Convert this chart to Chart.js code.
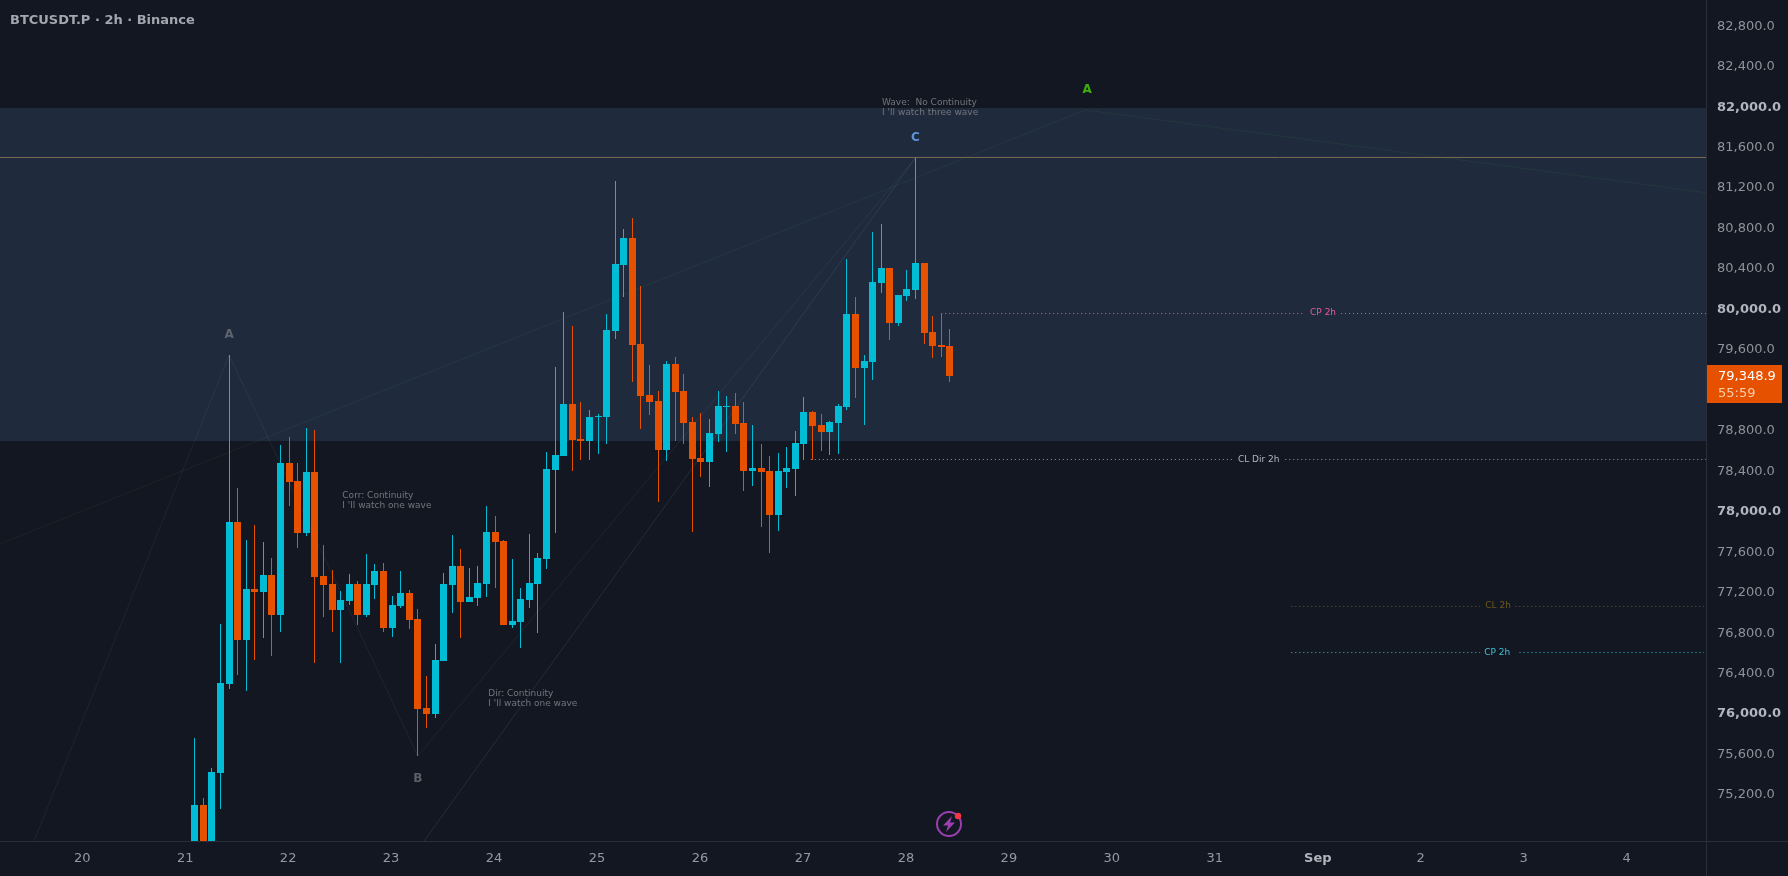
<!DOCTYPE html>
<html><head><meta charset="utf-8">
<style>html,body{margin:0;padding:0;background:#131722;overflow:hidden}canvas{display:block}</style>
<script src="https://cdn.jsdelivr.net/npm/chart.js@4/dist/chart.umd.min.js"></script>
</head><body><canvas id="c" width="1788" height="876"></canvas>
<script>
// slot index = 2h bar number (slot 0 is the first visible candle)
const opens  = [74666,75111,74660,75427,76307,77909,76743,77247,77217,77385,76990,78492,78314,77800,78403,77375,77296,77039,77128,77296,76990,77286,77425,76861,77079,77207,76950,76070,76011,76535,77286,77474,77118,77158,77296,77810,77721,76891,76920,77138,77296,77543,78423,78562,79076,78730,78710,78947,78947,79797,80450,80717,79669,79165,79105,78621,79471,79204,78898,78542,78502,78779,79046,79056,78888,78413,78443,78413,77978,78403,78433,78680,78997,78868,78799,78888,79046,79965,79432,79491,80272,80420,79876,80143,80203,80470,79787,79659,79649];
const highs  = [75774,75180,75477,76901,79560,78245,77731,77879,77711,77553,78670,78749,78492,78838,78819,77682,77435,77227,77395,77326,77593,77494,77504,77177,77425,77237,77049,76387,76703,77405,77781,77642,77454,77474,78067,77968,77731,77543,77257,77790,77603,78601,79441,79985,79847,79095,79016,78977,79965,81280,80806,80914,80242,79461,79204,79501,79540,79372,78947,78987,78927,79204,79155,79184,79095,78868,78680,78562,78591,78650,78809,79145,79006,78977,78908,79076,80509,80134,79560,80776,80855,80420,80153,80400,81508,80470,79946,79975,79817];
const lows   = [74617,74600,74600,75072,76258,76396,76238,76545,76762,76584,76822,78067,77652,77771,76515,76970,76822,76515,77088,76891,76970,77148,76822,76772,77059,76851,75596,75872,75971,76535,77009,76762,77118,77079,77168,77257,76891,76861,76664,77059,76812,77444,77800,78562,78413,78522,78522,78581,78680,79718,80134,79293,78829,78967,78107,78512,78710,78680,77810,78354,78255,78700,78601,78779,78216,78265,77860,77603,77820,78245,78166,78522,78522,78611,78571,78581,79016,79135,78868,79313,80173,79708,79847,80094,80114,79669,79530,79540,79293];
const closes = [75111,74660,75437,76317,77909,76743,77247,77217,77385,76990,78492,78304,77800,78403,77365,77286,77039,77138,77296,76990,77296,77425,76861,77088,77207,76940,76060,76011,76545,77296,77474,77118,77168,77306,77810,77711,76891,76930,77148,77306,77553,78433,78571,79076,78720,78710,78947,78957,79807,80460,80717,79659,79155,79095,78621,79471,79194,78888,78532,78502,78789,79056,79056,78878,78413,78443,78403,77978,78413,78443,78690,78997,78858,78799,78898,79056,79965,79432,79501,80282,80420,79876,80153,80213,80470,79778,79649,79639,79349];

const dayTickSlots = [-13,-1,11,23,35,47,59,71,83,95,107,119,131,143,155,167];
const dayLabels = ['20','21','22','23','24','25','26','27','28','29','30','31','Sep','2','3','4'];
const priceTicks = [75200,75600,76000,76400,76800,77200,77600,78000,78400,78800,79600,80000,80400,80800,81200,81600,82000,82400,82800];
const boldPrices = [76000,78000,80000,82000];
const lastPriceLabel = '79,348.9';
const lastPrice = 79348.9;
const countdown = '55:59';

const slotMin = -22.698, slotMax = 176.13;
const priceMin = 74755.3, priceMax = 83069.7;

const zoneTop = 82002, zoneBottom = 78710;
const resistance = 81513;

const zigzagSlots = [-18.73, 4, 26, 84];
const zigzagPrices = [74755, 79560, 75596, 81508];
const diagSlots = [26.73, 84];
const diagPrices = [74755, 81508];
const greenSlots = [-22.7, 103.76, 176.13];
const greenPrices = [77692, 81982, 81165];

const clDirSlots = [71.8, 121.1, 121.1, 127.1, 176.13];
const clDirPrice = 78527;
const cpTopSlots = [87, 129.4, 129.4, 133.6, 176.13];
const cpTopPrice = 79970;
const clSlots = [127.8, 149.8, 149.8, 153.9, 175.9];
const clPrice = 77074;
const cpSlots = [127.8, 149.8, 149.8, 154.4, 175.9];
const cpPrice = 76619;

const noteTexts = ['Corr: Continuity',"I 'll watch one wave",'Dir: Continuity',"I 'll watch one wave",'Wave:  No Continuity',"I 'll watch three wave"];
const noteSlots = [17.2,17.2,34.2,34.2,80.1,80.1];
const notePrices = [78170,78070,76210,76110,82055,81955];

const levelTexts = ['CL Dir 2h','CP 2h','CL 2h','CP 2h'];
const levelSlots = [124.0,131.5,151.9,151.8];
const levelPrices = [78529,79975,77079,76621];
const levelColors = ['#b2b5be','#e85a9b','#6e5a1a','#3fc0d4'];

const waveTexts = ['A','B','C','A'];
const waveSlots = [4,26,84,104];
const wavePrices = [79760,75370,81710,82180];
const waveColors = ['#5d626e','#5d5f66','#5f93d8','#3fae0f'];

const UP='#00bcd4', DOWN='#e65100', FONT='"DejaVu Sans"';
const colors = closes.map((c,i)=> c>=opens[i]?UP:DOWN);
const idx = closes.map((_,i)=>i);
const pts = (xs,ys)=>xs.map((x,i)=>({x,y:Array.isArray(ys)?ys[i]:ys}));
function gapped(xs,y){return [{x:xs[0],y},{x:xs[1],y},{x:xs[2],y:null},{x:xs[3],y},{x:xs[4],y}];}
function lineSet(data,color,opt){return Object.assign({type:'line',data,borderColor:color,borderWidth:1,pointRadius:0,tension:0,fill:false,spanGaps:false,order:5},opt||{});}
function noPad(s){s.paddingTop=0;s.paddingBottom=0;s.paddingLeft=0;s.paddingRight=0;}

const snapBars={id:'snapBars',afterDatasetsUpdate(ch){
  ch.data.datasets.forEach((d,n)=>{ if(d.type!=='bar')return;
    ch.getDatasetMeta(n).data.forEach(el=>{
      el.x=Math.floor(el.x)+0.5;
      let a=Math.round(el.y),b=Math.round(el.base);
      if(a===b)b=a+1;
      el.y=a;el.base=b;
    });
  });
}};
const chrome={id:'chrome',
 beforeDraw(ch){const c=ch.ctx;c.save();c.fillStyle='#131722';c.fillRect(0,0,ch.width,ch.height);c.restore();},
 afterDraw(ch){
  const c=ch.ctx,X=ch.scales.x,Y=ch.scales.y,A=ch.chartArea;
  c.save();
  c.fillStyle='#2a2e39';
  c.fillRect(0,A.bottom,ch.width,1);
  c.fillRect(A.right,0,1,ch.height);
  c.textBaseline='middle';
  // header
  c.font='bold 13px '+FONT;c.fillStyle='#a3a6af';c.textAlign='left';
  c.fillText('BTCUSDT.P · 2h · Binance',10,21);
  // notes
  c.font='9px '+FONT;c.fillStyle='#73757b';
  noteTexts.forEach((t,i)=>c.fillText(t,X.getPixelForValue(noteSlots[i]),Y.getPixelForValue(notePrices[i])));
  // level labels
  c.textAlign='center';
  levelTexts.forEach((t,i)=>{c.fillStyle=levelColors[i];c.fillText(t,X.getPixelForValue(levelSlots[i]),Y.getPixelForValue(levelPrices[i]));});
  // wave letters
  c.font='bold 12px '+FONT;
  waveTexts.forEach((t,i)=>{c.fillStyle=waveColors[i];c.fillText(t,X.getPixelForValue(waveSlots[i]),Y.getPixelForValue(wavePrices[i]));});
  // price tag
  const py=Y.getPixelForValue(lastPrice);
  c.fillStyle=DOWN;c.fillRect(A.right+1,Math.round(py)-11,75,38);
  c.textAlign='left';c.font='13px '+FONT;c.fillStyle='#ffffff';
  c.fillText(lastPriceLabel,1718,Math.round(py)+1);
  c.fillStyle='#f9cdb0';c.fillText(countdown,1718,Math.round(py)+18);
  // alert icon
  c.strokeStyle='#9b3fb0';c.lineWidth=2;c.beginPath();c.arc(949,824,12,0,Math.PI*2);c.stroke();
  c.fillStyle='#9b3fb0';c.beginPath();
  c.moveTo(952,816);c.lineTo(943,825.5);c.lineTo(948,825.5);c.lineTo(946,832);c.lineTo(955,822.5);c.lineTo(950,822.5);c.closePath();c.fill();
  c.fillStyle='#f23645';c.beginPath();c.arc(958,816,3.2,0,Math.PI*2);c.fill();
  c.restore();
 }};
const isBoldPrice=c=>!!(c.tick&&boldPrices.includes(c.tick.value));
const isSep=c=>dayLabels[c.index]==='Sep';

new Chart(document.getElementById('c'),{
 type:'bar',
 plugins:[snapBars,chrome],
 data:{datasets:[
  {type:'bar',data:idx.map(i=>({x:i,y:[opens[i],closes[i]]})),backgroundColor:colors,barThickness:7,inflateAmount:0,grouped:false,order:1},
  {type:'bar',data:idx.map(i=>({x:i,y:[lows[i],highs[i]]})),backgroundColor:colors,barThickness:1,inflateAmount:0,grouped:false,order:2},
  lineSet(pts([slotMin,slotMax],resistance),'#7a6c52',{order:4}),
  lineSet(gapped(clDirSlots,clDirPrice),'#9a9da4',{borderDash:[1,3]}),
  lineSet(gapped(cpTopSlots,cpTopPrice),'#f0609f',{borderDash:[1,3]}),
  lineSet(gapped(clSlots,clPrice),'#6e5a1a',{borderDash:[1,3]}),
  lineSet(gapped(cpSlots,cpPrice),'#3fc0d4',{borderDash:[1,3]}),
  lineSet(pts(zigzagSlots,zigzagPrices),'rgba(120,125,140,0.13)',{order:6}),
  lineSet(pts(diagSlots,diagPrices),'rgba(90,105,150,0.25)',{order:6}),
  lineSet(pts(greenSlots,greenPrices),'rgba(60,120,60,0.15)',{order:6}),
  lineSet(pts([slotMin,slotMax],zoneTop),'#1f2b3d',{order:10,borderWidth:0,backgroundColor:'#1f2b3d',fill:{target:{value:zoneBottom}}})
 ]},
 options:{
  responsive:false,animation:false,
  devicePixelRatio:1,
  layout:{padding:0},
  plugins:{legend:{display:false},tooltip:{enabled:false},title:{display:false}},
  scales:{
   x:{type:'linear',min:slotMin,max:slotMax,offset:false,
     afterFit(s){s.height=35;noPad(s);},
     afterBuildTicks(s){s.ticks=dayTickSlots.map(v=>({value:v}));},
     grid:{display:false,drawTicks:false},border:{display:false},
     ticks:{autoSkip:false,maxRotation:0,minRotation:0,padding:10,labelOffset:-1,
       callback:(v,i)=>dayLabels[i],
       color:c=>isSep(c)?'#b2b5be':'#9598a1',
       font:c=>({family:'DejaVu Sans',size:13,weight:isSep(c)?'bold':'normal'})}},
   y:{type:'linear',position:'right',min:priceMin,max:priceMax,
     afterFit(s){s.width=82;noPad(s);},
     afterBuildTicks(s){s.ticks=priceTicks.map(v=>({value:v}));},
     grid:{display:false,drawTicks:false},border:{display:false},
     ticks:{padding:11,labelOffset:-1,
       callback:v=>v.toLocaleString('en-US',{minimumFractionDigits:1,maximumFractionDigits:1}),
       color:c=>isBoldPrice(c)?'#b2b5be':'#8f9299',
       font:c=>({family:'DejaVu Sans',size:13,weight:isBoldPrice(c)?'bold':'normal'})}}
  }
 }
});
</script></body></html>
